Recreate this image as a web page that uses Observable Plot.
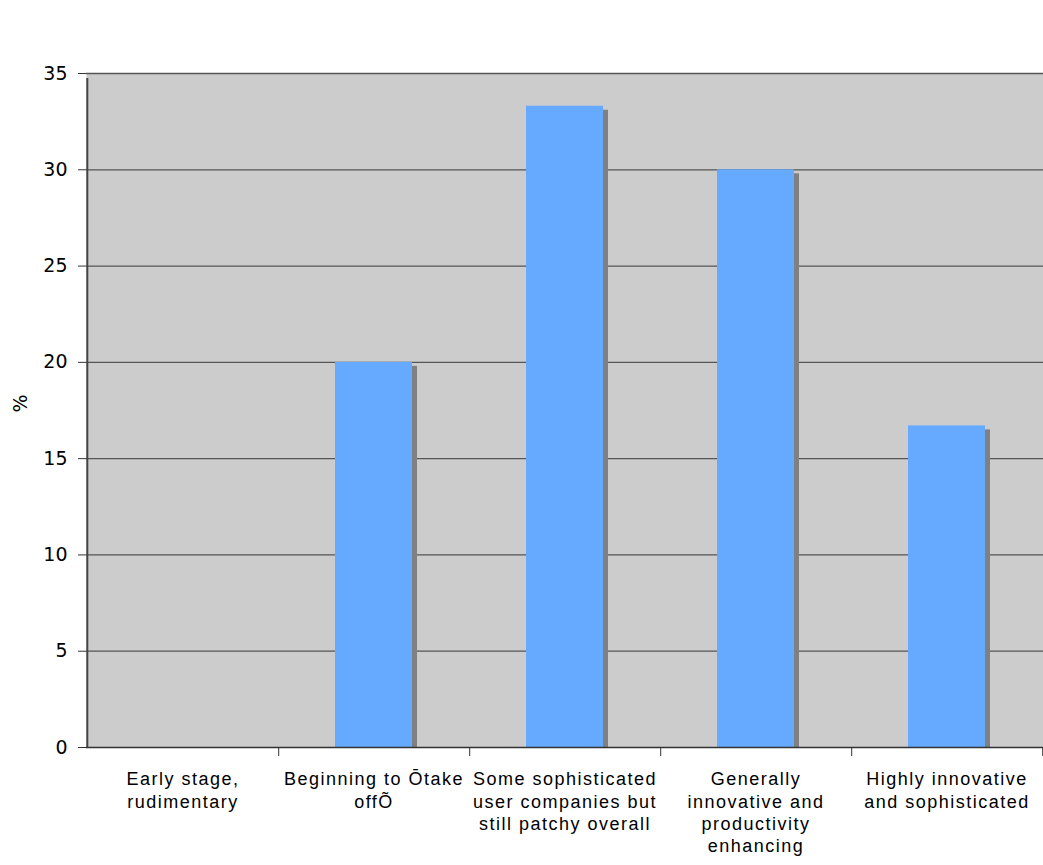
<!DOCTYPE html>
<html>
<head>
<meta charset="utf-8">
<script src="https://cdn.jsdelivr.net/npm/d3@7"></script>
<script src="https://cdn.jsdelivr.net/npm/@observablehq/plot@0.6"></script>
<style>
  html, body { margin: 0; padding: 0; background: #fff; }
  #chart svg { display: block; }
</style>
</head>
<body>
<div id="chart"></div>
<script>
const categories = [
  "Early stage, rudimentary",
  "Beginning to Ōtake offÕ",
  "Some sophisticated user companies but still patchy overall",
  "Generally innovative and productivity enhancing",
  "Highly innovative and sophisticated"
];
const tickLabels = [
  "Early stage,\nrudimentary",
  "Beginning to Ōtake\noffÕ",
  "Some sophisticated\nuser companies but\nstill patchy overall",
  "Generally\ninnovative and\nproductivity\nenhancing",
  "Highly innovative\nand sophisticated"
];
const values = [0, 20.0, 33.3, 30.0, 16.7];
const yTicks = [0, 5, 10, 15, 20, 25, 30, 35];

const data = categories.map((c, i) => ({category: c, value: values[i], label: tickLabels[i]}));

const W = 1043, H = 865;
const mL = 86, mR = 0, mT = 73, mB = 118;
const band = (W - mL - mR) / categories.length;
const inset = 57;

const chart = Plot.plot({
  width: W,
  height: H,
  marginLeft: mL,
  marginRight: mR,
  marginTop: mT,
  marginBottom: mB,
  style: {fontFamily: "DejaVu Sans, Verdana, sans-serif", fontSize: "19px", background: "#fff", color: "#000"},
  x: {domain: categories, padding: 0, axis: null},
  y: {domain: [0, 35], axis: null},
  marks: [
    Plot.frame({fill: "#cccccc", stroke: null}),
    Plot.ruleY(yTicks.filter(d => d > 0), {stroke: "#555", strokeWidth: 1.3}),
    Plot.barY(data, {x: "category", y: "value", fill: "#808080", insetLeft: inset, insetRight: inset, insetBottom: 4, dx: 5, dy: 4}),
    Plot.barY(data, {x: "category", y: "value", fill: "#66aaff", insetLeft: inset, insetRight: inset}),
    Plot.axisY({ticks: yTicks, tickSize: 8, tickPadding: 11, fontSize: 19, stroke: "#333", label: null}),
    Plot.axisX({tickSize: 9, text: null, dx: band / 2, stroke: "#333", label: null}),
    Plot.text(data, {
      x: "category", text: "label", frameAnchor: "bottom", lineAnchor: "top", dy: 22,
      fontSize: 18, lineHeight: 1.24, fontFamily: "Liberation Sans, Arial, sans-serif",
      fill: "#000"
    }),
    Plot.ruleY([0], {stroke: "#333", strokeWidth: 1.3}),
    Plot.ruleX([0], {x: () => categories[0], dx: -band / 2, y1: 0, y2: 35, insetBottom: -5, stroke: "#444", strokeWidth: 2}),
    Plot.text(["%"], {frameAnchor: "left", dx: -66, dy: 2, rotate: -90, fontSize: 19})
  ]
});
chart.querySelectorAll("text").forEach(t => {
  const g = t.closest("g");
  if (g && (g.getAttribute("font-family") || "").includes("Liberation")) {
    t.style.letterSpacing = "1.5px";
  }
});
document.getElementById("chart").appendChild(chart);
</script>
</body>
</html>
